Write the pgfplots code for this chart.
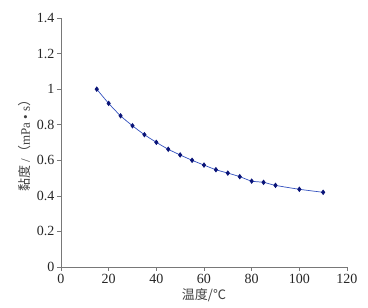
\documentclass[border=0pt]{standalone}
\usepackage{pgfplots}
\pgfplotsset{compat=1.18}
\usepackage{fontspec}
\setmainfont{Liberation Serif}
\newfontfamily\cjk{Noto Sans CJK SC}
\newfontfamily\tnr{Liberation Serif}
\definecolor{axgray}{RGB}{120,120,120}
\definecolor{linec}{RGB}{50,80,190}
\definecolor{markc}{RGB}{10,20,120}
\begin{document}
\begin{tikzpicture}
\useasboundingbox (-61pt,-41pt) rectangle (307pt,267pt);
\begin{axis}[
  scale only axis, width=286pt, height=249pt,
  xmin=0, xmax=120, ymin=0, ymax=1.4,
  xtick={0,20,...,120}, ytick={0,0.2,...,1.4},
  xticklabels={0,20,40,60,80,100,120},
  yticklabels={0,0.2,0.4,0.6,0.8,1,1.2,1.4},
  axis x line=bottom, axis y line=left,
  x axis line style={-, draw=axgray, line width=0.9pt},
  y axis line style={-, draw=axgray, line width=0.6pt},
  tick style={draw=axgray, line width=0.6pt},
  tick align=outside, major tick length=4pt,
  every tick label/.append style={font=\tnr\fontsize{14}{15}\selectfont, text=black!85},
  yticklabel style={xshift=1pt},
  xlabel={\cjk 温度/℃}, ylabel={{\cjk 黏度} /{\cjk（}\tnr mPa • s{\cjk ）}},
  every axis label/.append style={font=\fontsize{13}{14}\selectfont, text=black!75},
  xlabel style={yshift=2pt},
  ylabel style={yshift=-1pt},
]
\addplot[smooth, color=linec, line width=0.7pt, mark=diamond*, mark size=2.2pt,
  mark options={fill=markc, draw=markc}] coordinates {
(15,1.0) (20,0.92) (25,0.85) (30,0.794) (35,0.744) (40,0.701) (45,0.662)
(50,0.630) (55,0.600) (60,0.573) (65,0.547) (70,0.528) (75,0.508)
(80,0.483) (85,0.476) (90,0.459) (100,0.437) (110,0.420)};
\end{axis}
\end{tikzpicture}
\end{document}
